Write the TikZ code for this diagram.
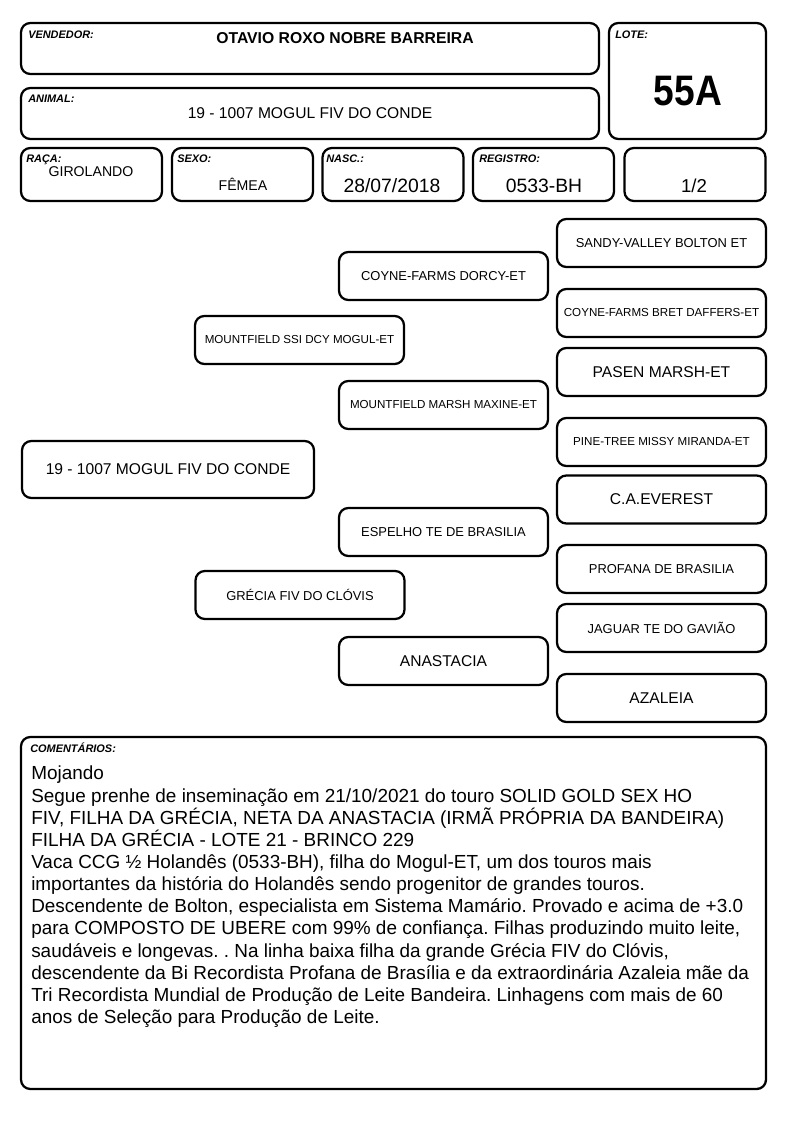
\documentclass[tikz,border=0pt]{standalone}
\usepackage{fontspec}
\setmainfont{Liberation Sans}
\usepackage{graphicx}
\usetikzlibrary{positioning}
\frenchspacing
\tikzset{
  box/.style={draw, line width=1.7pt, rounded corners=7pt, inner sep=0pt},
  ped/.style={box, minimum width=156.75pt, minimum height=36pt, align=center},
  tag/.style={anchor=base west, inner sep=0pt, font=\fontsize{8.2}{9}\selectfont\bfseries\itshape},
  val/.style={inner sep=0pt},
  big/.style={font=\fontsize{11.7}{13}\selectfont},
  mid/.style={font=\fontsize{9.7}{11}\selectfont},
  small/.style={font=\fontsize{8.7}{10}\selectfont}
}
\begin{document}
\begin{tikzpicture}[x=0.75pt,y=-0.75pt]
\useasboundingbox (0,0) rectangle (794,1123);
% header
\node[box, minimum width=433.5pt, minimum height=38.25pt] (vend) at (310,48.5) {};
\node[box, minimum width=117.75pt, minimum height=87pt] (lote) at (687.5,81) {};
\node[box, minimum width=433.5pt, minimum height=38.25pt] (anim) at (310,113.5) {};
\node[box, minimum width=105.75pt, minimum height=39.75pt] (raca) at (91.5,174.5) {};
\node[box, minimum width=105.75pt, minimum height=39.75pt] (sexo) at (242.5,174.5) {};
\node[box, minimum width=105.75pt, minimum height=39.75pt] (nasc) at (393,174.5) {};
\node[box, minimum width=105.75pt, minimum height=39.75pt] (reg) at (543.5,174.5) {};
\node[box, minimum width=105.75pt, minimum height=39.75pt] (frac) at (695,174.5) {};
\node[tag] (tvend) at (28,39) {VENDEDOR:};
\node[tag] (tlote) at (615,39) {LOTE:};
\node[tag] (tanim) at (28,103) {ANIMAL:};
\node[tag] (traca) at (26,163) {RAÇA:};
\node[tag] (tsexo) at (177,163) {SEXO:};
\node[tag] (tnasc) at (326,163) {NASC.:};
\node[tag] (treg) at (479,163) {REGISTRO:};
\node[val, font=\fontsize{11.8}{13}\selectfont\bfseries] (vvend) at (345,38) {OTAVIO ROXO NOBRE BARREIRA};
\node[val, font=\fontsize{32}{36}\selectfont\bfseries] (vlote) at (688,91) {\scalebox{0.87}[1]{55A}};
\node[val, big] (vanim) at (310,113) {19 - 1007 MOGUL FIV DO CONDE};
\node[val, font=\fontsize{10.6}{12}\selectfont] (vraca) at (91,172) {GIROLANDO};
\node[val, font=\fontsize{10.6}{12}\selectfont] (vsexo) at (243,184) {FÊMEA};
\node[val, font=\fontsize{14.5}{16}\selectfont] (vnasc) at (392,186) {28/07/2018};
\node[val, font=\fontsize{14.5}{16}\selectfont] (vreg) at (544,186) {0533-BH};
\node[val, font=\fontsize{14}{16}\selectfont] (vfrac) at (694,186) {1/2};
% pedigree
\node[box, big, minimum width=219pt, minimum height=42.75pt] (self) at (168,469.5) {19 - 1007 MOGUL FIV DO CONDE};
\node[ped, small] (sire) at (299.5,340) {MOUNTFIELD SSI DCY MOGUL-ET};
\node[ped, mid] (dam) at (300,595) {GRÉCIA FIV DO CLÓVIS};
\node[ped, mid] (ss) at (443.5,276) {COYNE-FARMS DORCY-ET};
\node[ped, small] (sd) at (443.5,405) {MOUNTFIELD MARSH MAXINE-ET};
\node[ped, mid] (ds) at (443.5,532) {ESPELHO TE DE BRASILIA};
\node[ped, big] (dd) at (443.5,661) {ANASTACIA};
\node[ped, mid] (sss) at (661.5,243) {SANDY-VALLEY BOLTON ET};
\node[ped, small] (ssd) at (661.5,313) {COYNE-FARMS BRET DAFFERS-ET};
\node[ped, big] (sds) at (661.5,372) {PASEN MARSH-ET};
\node[ped, small] (sdd) at (661.5,442) {PINE-TREE MISSY MIRANDA-ET};
\node[ped, big] (dss) at (661.5,499.5) {C.A.EVEREST};
\node[ped, mid] (dsd) at (661.5,569) {PROFANA DE BRASILIA};
\node[ped, mid] (dds) at (661.5,628) {JAGUAR TE DO GAVIÃO};
\node[ped, big] (ddd) at (661.5,698) {AZALEIA};
% comments
\node[box, minimum width=558.75pt, minimum height=264pt] (com) at (393.5,913) {};
\node[tag] (tcom) at (30,752) {COMENTÁRIOS:};
\node[val, anchor=north west, align=left, font=\fontsize{14.2}{16.6}\selectfont] (vcom) at (31,766)
  {Mojando\\
   Segue prenhe de inseminação em 21/10/2021 do touro SOLID GOLD SEX HO\\
   FIV, FILHA DA GRÉCIA, NETA DA ANASTACIA (IRMÃ PRÓPRIA DA BANDEIRA)\\
   FILHA DA GRÉCIA - LOTE 21 - BRINCO 229\\
   Vaca CCG ½ Holandês (0533-BH), filha do Mogul-ET, um dos touros mais\\
   importantes da história do Holandês sendo progenitor de grandes touros.\\
   Descendente de Bolton, especialista em Sistema Mamário. Provado e acima de +3.0\\
   para COMPOSTO DE UBERE com 99\% de confiança. Filhas produzindo muito leite,\\
   saudáveis e longevas. . Na linha baixa filha da grande Grécia FIV do Clóvis,\\
   descendente da Bi Recordista Profana de Brasília e da extraordinária Azaleia mãe da\\
   Tri Recordista Mundial de Produção de Leite Bandeira. Linhagens com mais de 60\\
   anos de Seleção para Produção de Leite.};
\end{tikzpicture}
\end{document}
